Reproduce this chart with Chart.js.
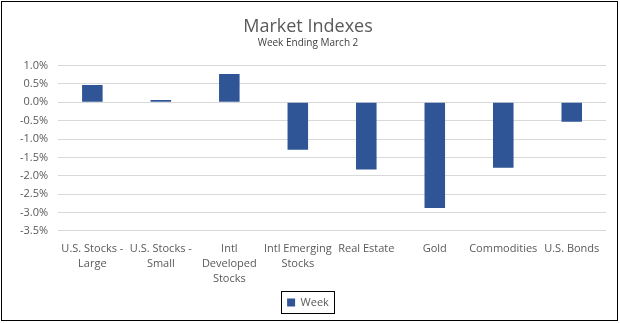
<!DOCTYPE html>
<html>
<head>
<meta charset="utf-8">
<script src="https://cdn.jsdelivr.net/npm/chart.js@4.4.1/dist/chart.umd.min.js"></script>
<style>
  html, body { margin: 0; padding: 0; background: #fff; }
  #wrap { width: 620px; height: 323px; }
</style>
</head>
<body>
<div id="wrap"><canvas id="marketChart" width="620" height="323"></canvas></div>
<script>
var categories = [
    ["U.S. Stocks -", "Large"],
    ["U.S. Stocks -", "Small"],
    ["Intl", "Developed", "Stocks"],
    ["Intl Emerging", "Stocks"],
    "Real Estate",
    "Gold",
    "Commodities",
    "U.S. Bonds"
];
var weekValues = [0.47, 0.06, 0.77, -1.29, -1.83, -2.88, -1.78, -0.53];
var yMin = -3.5, yMax = 1.0, yStep = 0.5;

var textColor = "#595959";
var fontFamily = "'Open Sans', 'Liberation Sans', sans-serif";

var framePlugin = {
    id: "frame",
    afterDraw: function (chart) {
        var ctx = chart.ctx;
        ctx.save();
        ctx.strokeStyle = "#000";
        ctx.lineWidth = 1;
        ctx.strokeRect(1.5, 1.5, chart.width - 4, chart.height - 4);
        var lg = chart.legend;
        if (lg && lg.legendHitBoxes && lg.legendHitBoxes.length) {
            var hb = lg.legendHitBoxes[0];
            ctx.strokeRect(Math.round(hb.left) - 5.5, Math.round(hb.top) - 5.5, Math.round(hb.width) + 11, Math.round(hb.height) + 11);
        }
        ctx.restore();
    }
};

var ctx = document.getElementById("marketChart");
var myChart = new Chart(ctx, {
    type: "bar",
    data: {
        labels: categories,
        datasets: [
            {
                label: "Week",
                backgroundColor: "#2F5597",
                data: weekValues,
                categoryPercentage: 1.0,
                barPercentage: 0.3
            }
        ]
    },
    options: {
        responsive: false,
        animation: false,
        layout: { padding: { left: 10, right: 14, top: 6, bottom: 5 } },
        plugins: {
            title: {
                display: true,
                text: "Market Indexes",
                color: textColor,
                font: { family: fontFamily, size: 18, weight: "normal" },
                padding: { top: 10, bottom: 0 }
            },
            subtitle: {
                display: true,
                text: "Week Ending March 2",
                color: "#404040",
                font: { family: fontFamily, size: 10 },
                padding: { top: 0, bottom: 16 }
            },
            legend: {
                position: "bottom",
                labels: {
                    color: textColor,
                    font: { family: fontFamily, size: 11 },
                    boxWidth: 8,
                    boxHeight: 8,
                    padding: 8
                }
            },
            tooltip: { enabled: false }
        },
        scales: {
            x: {
                grid: { display: false },
                border: { display: false },
                ticks: {
                    color: textColor,
                    font: { family: fontFamily, size: 11, lineHeight: 1.4 },
                    maxRotation: 0,
                    autoSkip: false,
                    padding: 2
                }
            },
            y: {
                min: yMin,
                max: yMax,
                grid: { color: "#D9D9D9", drawTicks: false },
                border: { display: false },
                ticks: {
                    stepSize: yStep,
                    color: textColor,
                    padding: 10,
                    font: { family: fontFamily, size: 11 },
                    callback: function (v) { return v.toFixed(1) + "%"; }
                }
            }
        }
    },
    plugins: [framePlugin]
});
</script>
</body>
</html>
